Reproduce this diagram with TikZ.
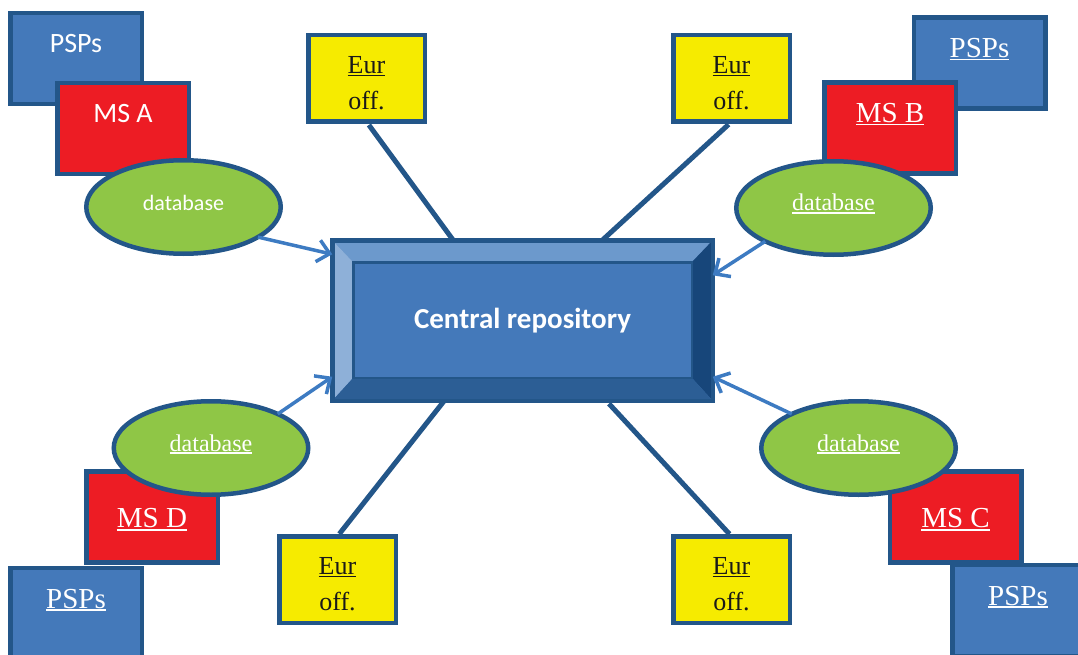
\documentclass[tikz,border=0pt]{standalone}
\usepackage{fontspec}
\setmainfont{Liberation Serif}
\newfontfamily\calibri{Carlito}
\usetikzlibrary{arrows.meta,shapes.geometric,positioning,calc}
\definecolor{boxblue}{HTML}{4479BA}
\definecolor{edgeblue}{HTML}{235689}
\definecolor{msred}{HTML}{ED1C24}
\definecolor{dbgreen}{HTML}{8FC646}
\definecolor{euyellow}{HTML}{F6EB00}
\definecolor{feedblue}{HTML}{3D7BC2}
\definecolor{bevtop}{HTML}{6C99CC}
\definecolor{bevleft}{HTML}{8EB0D8}
\definecolor{bevright}{HTML}{17467A}
\definecolor{bevbottom}{HTML}{2C5E95}
\newcommand\ulw[1]{\sbox0{#1}\rlap{\rule[-3pt]{\wd0}{1.6pt}}\usebox0}

\begin{document}
\begin{tikzpicture}[
      x=1pt,y=-1pt,
      psp/.style={rectangle,draw=edgeblue,fill=boxblue,line width=4.5pt,inner sep=0pt,outer sep=0pt,
                  minimum width=131.5pt,minimum height=91pt,text=white,text height=40pt,text depth=51pt},
      msbox/.style={psp,fill=msred},
      low/.style={text height=56pt,text depth=35pt},
      dbase/.style={ellipse,draw=edgeblue,fill=dbgreen,line width=4.5pt,inner sep=0pt,outer sep=0pt,
                    minimum width=194.5pt,minimum height=93.5pt,text=white,text height=15pt,text depth=9pt},
      euroff/.style={rectangle,draw=edgeblue,fill=euyellow,line width=4.5pt,inner sep=0pt,outer sep=0pt,
                     minimum width=116.5pt,minimum height=86.5pt,align=center,text=black!90,
                     text height=74pt,text depth=12.5pt,font=\fontsize{26pt}{36pt}\selectfont},
      sans/.style={font=\calibri\fontsize{28pt}{30pt}\selectfont},
      dbsans/.style={font=\calibri\fontsize{22pt}{24pt}\selectfont},
      serif/.style={font=\fontsize{29pt}{31pt}\selectfont},
      dbserif/.style={font=\fontsize{24pt}{26pt}\selectfont},
      link/.style={draw=edgeblue,line width=5pt},
      feed/.style={-{Straight Barb[length=12pt,width=22pt]},draw=feedblue,line width=3.5pt}
    ]
    \useasboundingbox (0,0) rectangle (1078,655);

    % Central repository with bevelled frame
    \node[rectangle,fill=boxblue,minimum width=380.5pt,minimum height=160.5pt,inner sep=0pt,outer sep=0pt,
          text=white,font=\calibri\bfseries\fontsize{29pt}{31pt}\selectfont] (cr) at (522.5,320.5)
      {Central repository};
    \coordinate (iNW) at ([shift={(21,22)}]cr.north west);
    \coordinate (iNE) at ([shift={(-21,22)}]cr.north east);
    \coordinate (iSE) at ([shift={(-21,-23)}]cr.south east);
    \coordinate (iSW) at ([shift={(21,-23)}]cr.south west);
    \fill[bevtop] (cr.north west) -- (cr.north east) -- (iNE) -- (iNW) -- cycle;
    \fill[bevleft] (cr.north west) -- (iNW) -- (iSW) -- (cr.south west) -- cycle;
    \fill[bevright] (cr.north east) -- (iNE) -- (iSE) -- (cr.south east) -- cycle;
    \fill[bevbottom] (cr.south west) -- (iSW) -- (iSE) -- (cr.south east) -- cycle;
    \draw[edgeblue,line width=2.5pt] (iNW) rectangle (iSE);
    \draw[edgeblue,line width=4.5pt] (cr.north west) rectangle (cr.south east);

    % Member state A
    \node[psp,sans] (pspA) at (76,58.5) {PSPs};
    \node[msbox,sans] (msA) at (123,128.5) {MS A};
    \node[dbase,dbsans] (dbA) at (183.5,207) {database};

    % Member state B
    \node[psp,serif] (pspB) at (979.5,63) {\ulw{PSPs}};
    \node[msbox,serif] (msB) at (890,128) {\ulw{MS B}};
    \node[dbase,dbserif] (dbB) at (833.5,208) {\ulw{database}};

    % Member state C
    \node[psp,serif] (pspC) at (1018,610.5) {\ulw{PSPs}};
    \node[msbox,low,serif] (msC) at (955.5,517) {\ulw{MS C}};
    \node[dbase,dbserif] (dbC) at (858.5,448) {\ulw{database}};

    % Member state D
    \node[psp,serif] (pspD) at (76,613.5) {\ulw{PSPs}};
    \node[msbox,low,serif] (msD) at (152,517) {\ulw{MS D}};
    \node[dbase,dbserif] (dbD) at (211,448) {\ulw{database}};

    % European offices
    \node[euroff] (eurTL) at (366.5,78.5) {\ulw{Eur}\\off.};
    \node[euroff] (eurTR) at (731.5,78.5) {\ulw{Eur}\\off.};
    \node[euroff] (eurBL) at (337.5,579.5) {\ulw{Eur}\\off.};
    \node[euroff] (eurBR) at (731.5,579.5) {\ulw{Eur}\\off.};

    % Links to the offices
    \draw[link,shorten <=4pt] (eurTL.south) -- ([xshift=121pt]cr.north west);
    \draw[link,shorten <=4pt] (eurTR.south) -- ([xshift=270pt]cr.north west);
    \draw[link,shorten <=3pt] (eurBL.north) -- ([xshift=112pt]cr.south west);
    \draw[link,shorten <=3pt,shorten >=4pt] (eurBR.north) -- ([xshift=274pt]cr.south west);

    % Feeds from the databases
    \draw[feed] (dbA.-22) -- ([yshift=-14pt]cr.north west);
    \draw[feed] (dbB.-154) -- ([yshift=-35pt]cr.north east);
    \draw[feed] (dbD.27) -- ([yshift=24pt]cr.south west);
    \draw[feed] (dbC.153) -- ([yshift=24pt]cr.south east);

  \end{tikzpicture}
\end{document}
